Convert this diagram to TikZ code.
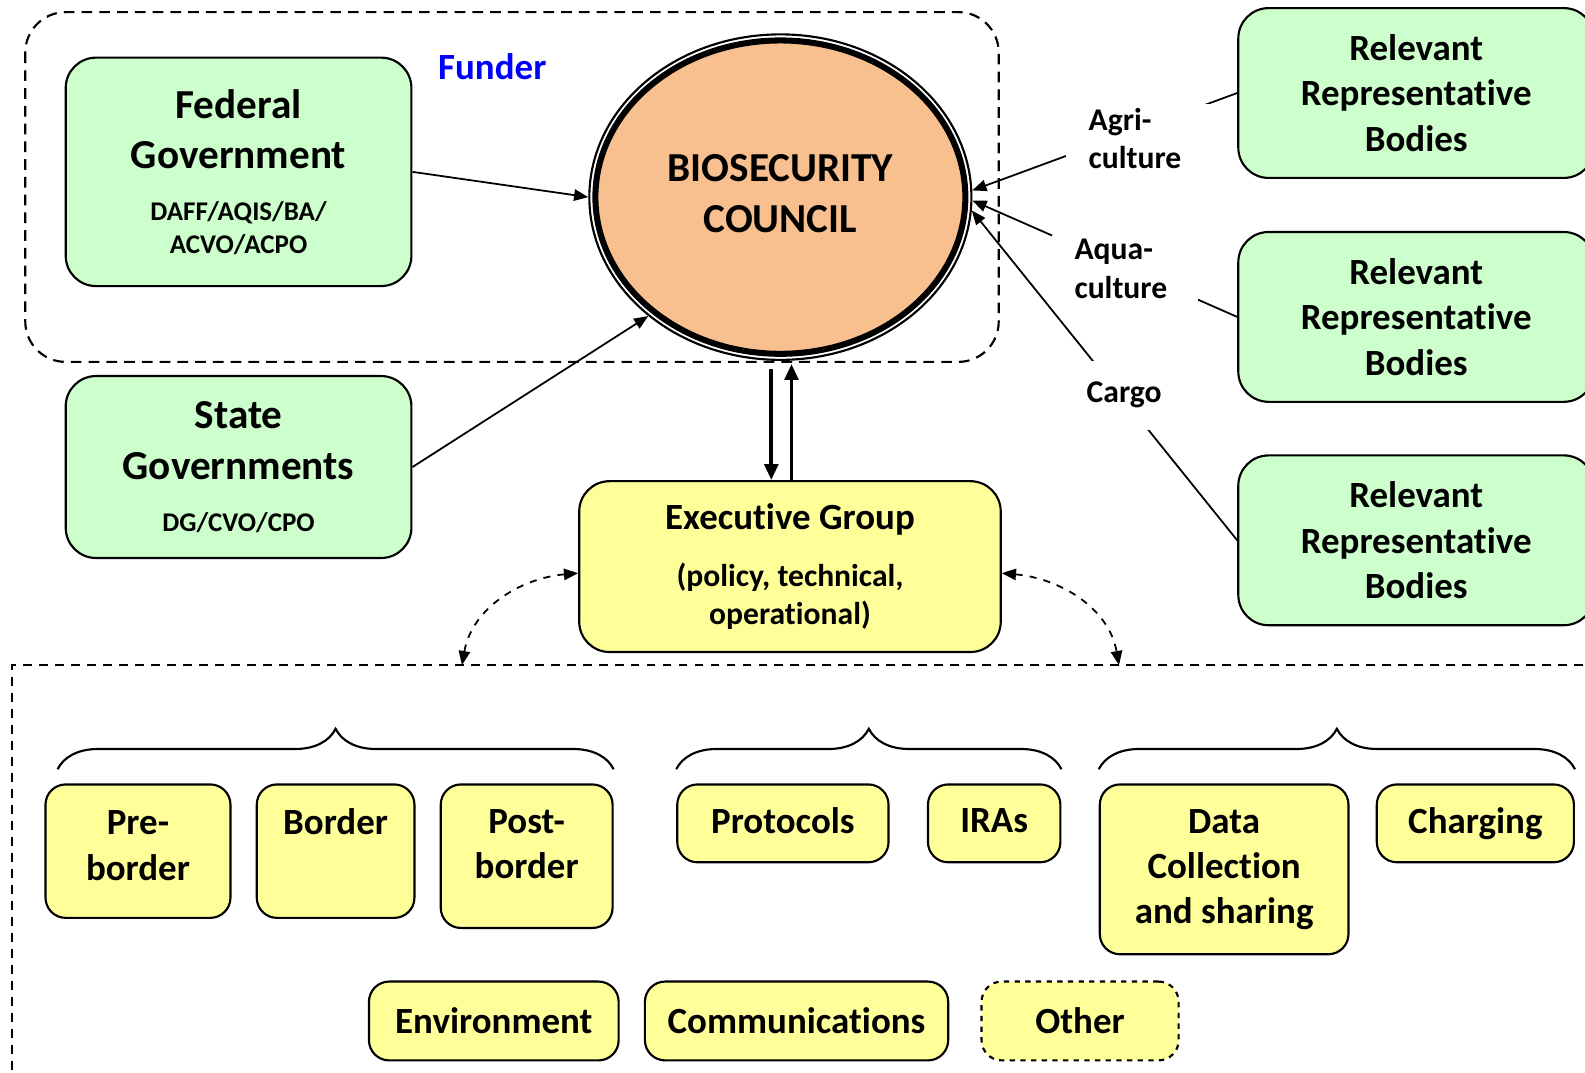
\documentclass[tikz,border=0pt]{standalone}
\usepackage{fontspec}
\setmainfont[Ligatures=NoCommon]{Carlito}
\usepackage{xcolor}
\usepackage{tikz}
\usetikzlibrary{arrows.meta,positioning,shapes,decorations.pathreplacing}

\definecolor{grnfill}{RGB}{204,255,204}
\definecolor{ylwfill}{RGB}{255,255,153}
\definecolor{peach}{RGB}{248,191,143}

\newcommand{\dptfont}{\fontsize{7.6}{9.1}\selectfont}
\newcommand{\notefont}{\fontsize{8.9}{10.8}\selectfont}

\tikzset{
  gbox/.style={draw, line width=0.6pt, rounded corners=0.3cm, fill=grnfill, align=center,
    font=\bfseries\fontsize{11.6}{14.2}\selectfont},
  rbox/.style={gbox, minimum width=3.52cm, minimum height=1.68cm,
    font=\bfseries\fontsize{10.4}{12.8}\selectfont},
  ybox/.style={draw, line width=0.6pt, rounded corners=0.2cm, fill=ylwfill, align=center,
    minimum height=0.77cm, font=\bfseries\fontsize{10.4}{12.7}\selectfont},
  feed/.style={fill=white, align=left, text width=1.0cm, inner xsep=0.22cm, inner ysep=0pt,
    minimum height=0.68cm, font=\bfseries\notefont},
  tip/.style={line width=0.5pt, -{Triangle[length=4pt,width=3.2pt]}},
  bigtip/.style={line width=1.1pt, -{Triangle[length=4.5pt,width=3.8pt]}},
  dashtip/.style={line width=0.5pt, dash pattern=on 2pt off 2pt,
    {Triangle[length=4pt,width=3.2pt]}-{Triangle[length=4pt,width=3.2pt]}},
  bracket/.style={line width=0.6pt, decorate, decoration={brace, amplitude=0.4cm}}
}

\begin{document}
\begin{tikzpicture}
\useasboundingbox (0,0) rectangle (15.68,-10.61);

\draw[line width=0.6pt, dash pattern=on 3pt off 2pt, rounded corners=0.4cm] (0.25,-0.12) rectangle (9.88,-3.58);
\node[text=blue, font=\bfseries\fontsize{10.4}{12.7}\selectfont] (funder) at (4.87,-0.66) {Funder};

\node[gbox, minimum width=3.42cm, minimum height=2.26cm] (fed) at (2.36,-1.70)
  {Federal\\Government\\[0.45pt]\dptfont DAFF/AQIS/BA/\\[-5.1pt]\dptfont ACVO/ACPO};
\node[gbox, minimum width=3.42cm, minimum height=1.80cm] (state) at (2.36,-4.62)
  {State\\Governments\\[0.45pt]\dptfont DG/CVO/CPO};

\node[ellipse, draw, line width=1.7pt, fill=peach, minimum width=3.66cm, minimum height=3.10cm,
  outer sep=2pt, align=center, font=\bfseries\fontsize{11.6}{14.5}\selectfont] (council) at (7.72,-1.95)
  {BIOSECURITY\\COUNCIL\\[-12.5pt]~};
\draw[line width=0.6pt] (council.center) ellipse [x radius=1.89cm, y radius=1.61cm];

\node[rbox] (rel1) at (14.01,-0.92) {Relevant\\Representative\\Bodies};
\node[rbox] (rel2) at (14.01,-3.135) {Relevant\\Representative\\Bodies};
\node[rbox] (rel3) at (14.01,-5.345) {Relevant\\Representative\\Bodies};

\node[ybox, rounded corners=0.3cm, minimum width=4.17cm, minimum height=1.69cm] (exec) at (7.815,-5.605)
  {Executive Group\\[3.2pt]\notefont(policy, technical,\\[-1.9pt]\notefont operational)};

\draw[tip] (fed.east) -- (council.west);
\draw[tip] (state.east) -- (council.222);
\draw[tip] (rel1.west) -- (council.2);
\draw[tip] (rel2.west) -- (council.-1);
\draw[tip] (rel3.west) -- (council.-4);

\node[feed] (agri) at (11.27,-1.37) {Agri-\\culture};
\node[feed] (aqua) at (11.13,-2.66) {Aqua-\\culture};
\node[feed] (cargo) at (11.25,-3.91) {Cargo};

\draw[bigtip] ([xshift=-0.09cm,yshift=-0.08cm]council.south) -- ([xshift=-0.09cm]council.south |- exec.north);
\draw[bigtip] ([xshift=0.11cm]council.south |- exec.north) -- ([xshift=0.11cm,yshift=-0.03cm]council.south);

\draw[line width=0.6pt, dash pattern=on 2.5pt off 2pt] (0.12,-10.9) -- (0.12,-6.58) -- (15.9,-6.58);
\coordinate (lhook) at (4.57,-6.58);
\coordinate (rhook) at (11.07,-6.58);
\draw[dashtip] ([yshift=-0.065cm]exec.west) to[out=185,in=80] (lhook);
\draw[dashtip] ([yshift=-0.065cm]exec.east) to[out=-5,in=100] (rhook);

\node[ybox, minimum width=1.83cm, minimum height=1.32cm] (pre) at (1.365,-8.42) {Pre-\\border\\[-9.5pt]~};
\node[ybox, minimum width=1.56cm, minimum height=1.32cm] (bord) at (3.32,-8.42) {Border\\[4pt]~};
\node[ybox, minimum width=1.70cm, minimum height=1.42cm] (post) at (5.21,-8.47) {Post-\\border\\[-6pt]~};
\node[ybox, minimum width=2.09cm] (proto) at (7.745,-8.145) {Protocols\\[-11pt]~};
\node[ybox, minimum width=1.31cm] (ira) at (9.835,-8.145) {IRAs\\[-11pt]~};
\node[ybox, minimum width=2.46cm, minimum height=1.68cm] (data) at (12.11,-8.60) {Data\\Collection\\and sharing};
\node[ybox, minimum width=1.95cm] (charg) at (14.595,-8.145) {Charging};

\node[ybox, minimum width=2.47cm, minimum height=0.78cm] (env) at (4.885,-10.10) {Environment};
\node[ybox, minimum width=3.00cm, minimum height=0.78cm] (comm) at (7.88,-10.10) {Communications};
\node[ybox, dash pattern=on 1.5pt off 1.5pt, minimum width=1.95cm, minimum height=0.78cm] (other) at (10.685,-10.10) {Other};

\draw[bracket] ([shift={(0.13,0.14)}]pre.north west) -- ([yshift=0.14cm]post.north east);
\draw[bracket] ([yshift=0.14cm]proto.north west) -- ([yshift=0.14cm]ira.north east);
\draw[bracket] ([yshift=0.14cm]data.north west) -- ([yshift=0.14cm]charg.north east);
\end{tikzpicture}
\end{document}
